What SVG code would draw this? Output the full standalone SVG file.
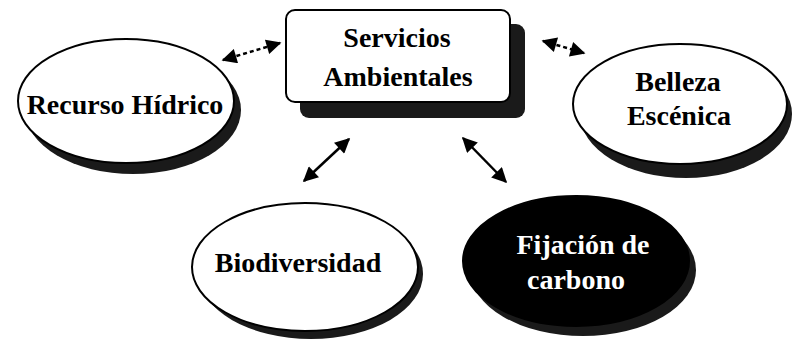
<svg xmlns="http://www.w3.org/2000/svg" width="795" height="342" viewBox="0 0 795 342">
<style>
.shadow{fill:#1a1a1a;}
.node{fill:#fff;stroke:#000;stroke-width:2;}
.dark{fill:#000;stroke:#000;stroke-width:2;}
.lbl{font-family:"Liberation Serif","Times New Roman",serif;font-weight:bold;font-size:28px;text-anchor:middle;fill:#000;}
.wlbl{fill:#fff;}
.conn{stroke:#000;stroke-width:2.5;fill:none;marker-start:url(#ah);marker-end:url(#ah);}
.dash{stroke-dasharray:4 3;}
</style>
<defs>
<marker id="ah" viewBox="0 0 10 10" refX="9" refY="5" markerWidth="6.5" markerHeight="6" orient="auto-start-reverse" markerUnits="strokeWidth">
<path d="M0,0 L10,5 L0,10 z" fill="#000"/>
</marker>
</defs>
<rect width="795" height="342" fill="#fff"/>
<g id="connectors">
<path class="conn dash" d="M223,60 L280,43"/>
<path class="conn dash" d="M543,41 L584,53"/>
<path class="conn" d="M349,139 L304,181"/>
<path class="conn" d="M463,138 L506,182"/>
</g>
<g id="servicios">
<rect class="shadow" x="300" y="24" width="225" height="94" rx="9"/>
<rect class="node" x="286" y="10" width="224" height="92" rx="9"/>
<text class="lbl" x="397" y="47">Servicios</text>
<text class="lbl" x="398" y="86">Ambientales</text>
</g>
<g id="recurso">
<ellipse class="shadow" cx="133" cy="110" rx="108" ry="64"/>
<ellipse class="node" cx="126" cy="101" rx="108" ry="62"/>
<text class="lbl" x="125" y="114">Recurso Hídrico</text>
</g>
<g id="belleza">
<ellipse class="shadow" cx="686" cy="114" rx="106" ry="64"/>
<ellipse class="node" cx="680" cy="104" rx="107" ry="60"/>
<text class="lbl" x="678" y="91">Belleza</text>
<text class="lbl" x="679" y="125">Escénica</text>
</g>
<g id="biodiversidad">
<ellipse class="shadow" cx="311" cy="274" rx="112" ry="65"/>
<ellipse class="node" cx="305" cy="267" rx="113" ry="64"/>
<text class="lbl" x="298" y="272">Biodiversidad</text>
</g>
<g id="fijacion">
<ellipse class="shadow" cx="583" cy="270" rx="113" ry="66"/>
<ellipse class="dark" cx="576" cy="261" rx="113" ry="65"/>
<text class="lbl wlbl" x="583" y="254">Fijación de</text>
<text class="lbl wlbl" x="576" y="289">carbono</text>
</g>
</svg>
